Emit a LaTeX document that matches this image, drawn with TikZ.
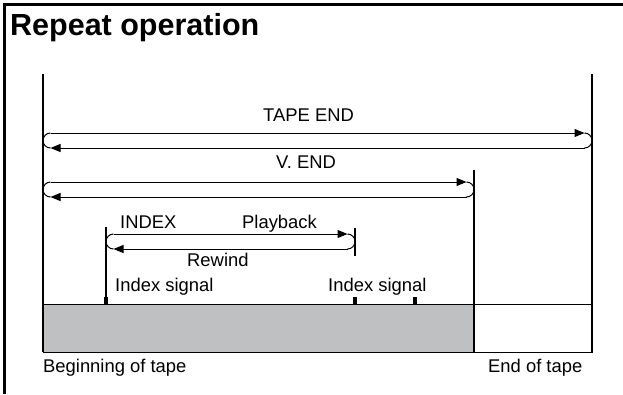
\documentclass[tikz,border=0pt]{standalone}
\usepackage{fontspec}
\setmainfont{Liberation Sans}
\usetikzlibrary{arrows.meta}
\definecolor{tapegray}{HTML}{BFC0C2}
\tikzset{
  lbl/.style={anchor=base west, inner sep=0pt, font=\fontsize{18.4}{21}\selectfont},
  flow/.style={line width=1pt, -{Triangle[length=10pt,width=8pt]}},
  thin line/.style={line width=1pt},
  mark line/.style={line width=1.3pt},
  tick/.style={fill=black, draw=none}
}
\newcommand\tapeloop[5]{%
  \coordinate (#1-l) at (#2,{(#4+#5)/2});
  \coordinate (#1-r) at (#3,{(#4+#5)/2});
  \coordinate (#1-ta) at ({#2+7.5},#4);
  \coordinate (#1-tb) at ({#3-7.5},#4);
  \coordinate (#1-ba) at ({#2+7.5},#5);
  \coordinate (#1-bb) at ({#3-7.5},#5);
  \draw[flow] (#1-ta) -- (#1-tb);
  \draw[flow] (#1-bb) -- (#1-ba);
  \draw[thin line, rounded corners=7.5pt] (#1-tb) -| (#1-r) |- (#1-bb);
  \draw[thin line, rounded corners=7.5pt] (#1-ba) -| (#1-l) |- (#1-ta);
}
\begin{document}
\begin{tikzpicture}[x=1pt,y=-1pt]
\useasboundingbox (0,0) rectangle (623,394);
% frame
\coordinate (fTL) at (4.5,4.5);
\coordinate (fTR) at (623,4.5);
\coordinate (fBL) at (4.5,394);
\draw[line width=2.7pt] (fTR) -- (fTL) -- (fBL);
\node[anchor=base west, inner sep=0pt, font=\bfseries\fontsize{30.5}{34}\selectfont] (title) at (10,35) {Repeat operation};

% tape
\coordinate (tTL) at (43,304);
\coordinate (tDiv) at (474,352);
\coordinate (tBR) at (592,352);
\fill[tapegray] (tTL) rectangle (tDiv);
\draw[thin line] (tTL) rectangle (tBR);

% vertical markers
\coordinate (begTop) at (43,74);
\coordinate (begBot) at (43,352);
\coordinate (endTop) at (592,74);
\coordinate (endBot) at (592,352);
\coordinate (vTop) at (474,170);
\coordinate (vBot) at (474,352);
\coordinate (iTop) at (106,227);
\coordinate (iBot) at (106,304);
\coordinate (pTop) at (355,228);
\coordinate (pBot) at (355,256);
\draw[mark line] (begTop) -- (begBot);
\draw[mark line] (endTop) -- (endBot);
\draw[mark line] (vTop) -- (vBot);
\draw[mark line] (iTop) -- (iBot);
\draw[mark line] (pTop) -- (pBot);

% index signal ticks
\coordinate (k1a) at (103.8,296.5); \coordinate (k1b) at (108.2,304);
\coordinate (k2a) at (352.8,296.5); \coordinate (k2b) at (357.2,304);
\coordinate (k3a) at (412.8,296.5); \coordinate (k3b) at (417.2,304);
\fill[tick] (k1a) rectangle (k1b);
\fill[tick] (k2a) rectangle (k2b);
\fill[tick] (k3a) rectangle (k3b);

% loops
\tapeloop{te}{43}{592}{133}{148}
\tapeloop{ve}{43}{474}{182}{197}
\tapeloop{ix}{106}{355}{234}{249}

% labels
\node[lbl] (tapeend) at (263,121) {TAPE END};
\node[lbl] (vend) at (276,168.5) {V. END};
\node[lbl] (index) at (120,228) {INDEX};
\node[lbl] (play) at (242,228) {Playback};
\node[lbl] (rew) at (187,266) {Rewind};
\node[lbl] (is1) at (115,291) {Index signal};
\node[lbl] (is2) at (328,291) {Index signal};
\node[lbl] (bot) at (43,372) {Beginning of tape};
\node[lbl] (eot) at (488,372) {End of tape};
\end{tikzpicture}
\end{document}
